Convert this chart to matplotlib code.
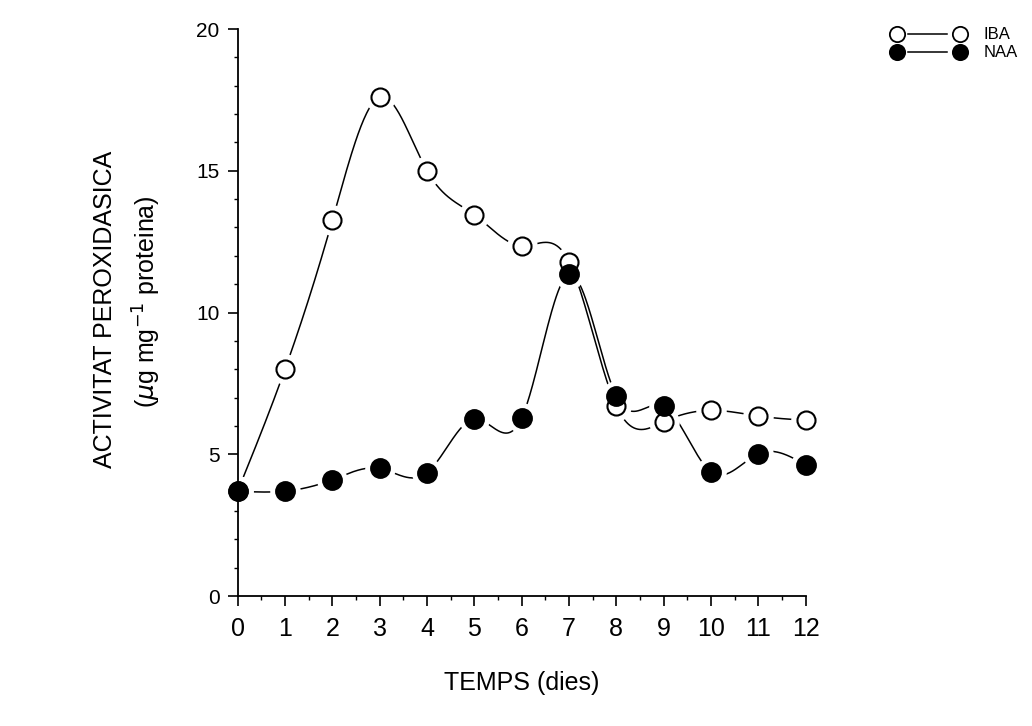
import numpy as np
import matplotlib
matplotlib.use("Agg")
import matplotlib.pyplot as plt
from matplotlib.lines import Line2D
from matplotlib.ticker import MultipleLocator

plt.rcParams['font.family'] = ['Liberation Sans', 'DejaVu Sans']

# dies de cultiu i activitat peroxidasica
dies = [0, 1, 2, 3, 4, 5, 6, 7, 8, 9, 10, 11, 12]
iba = [3.7, 8.0, 13.25, 17.6, 15.0, 13.45, 12.35, 11.8, 6.7, 6.15, 6.55, 6.35, 6.2]
naa = [3.7, 3.7, 4.1, 4.5, 4.35, 6.25, 6.28, 11.35, 7.05, 6.7, 4.38, 5.02, 4.62]


def spline(x, y, n=600):
    # natural cubic spline through the points
    x = np.asarray(x, float)
    y = np.asarray(y, float)
    h = np.diff(x)
    m = len(x)
    A = np.zeros((m, m))
    b = np.zeros(m)
    A[0, 0] = A[-1, -1] = 1
    for i in range(1, m - 1):
        A[i, i - 1] = h[i - 1]
        A[i, i] = 2 * (h[i - 1] + h[i])
        A[i, i + 1] = h[i]
        b[i] = 6 * ((y[i + 1] - y[i]) / h[i] - (y[i] - y[i - 1]) / h[i - 1])
    M = np.linalg.solve(A, b)
    xs = np.linspace(x[0], x[-1], n)
    k = np.clip(np.searchsorted(x, xs) - 1, 0, m - 2)
    t0 = x[k + 1] - xs
    t1 = xs - x[k]
    hk = h[k]
    ys = (M[k] * t0 ** 3 + M[k + 1] * t1 ** 3) / (6 * hk) \
        + (y[k] / hk - M[k] * hk / 6) * t0 + (y[k + 1] / hk - M[k + 1] * hk / 6) * t1
    return xs, ys


fig = plt.figure(figsize=(10.32, 7.26), dpi=100)
ax = fig.add_axes([0.2303, 0.179, 0.5504, 0.781])

for serie in (iba, naa):
    xs, ys = spline(dies, serie)
    ax.plot(xs, ys, color='black', lw=1.1, zorder=1, clip_on=False)

# white halo so the curves stop short of each marker
for serie in (iba, naa):
    ax.plot(dies, serie, ls='none', marker='o', ms=22, mfc='white', mec='none',
            zorder=2, clip_on=False)

ax.plot(dies, iba, ls='none', marker='o', ms=13, mfc='white', mec='black', mew=1.5,
        zorder=3, clip_on=False)
ax.plot(dies, naa, ls='none', marker='o', ms=13.5, mfc='black', mec='black', mew=1.5,
        zorder=4, clip_on=False)

ax.set_xlim(0, 12)
ax.set_ylim(0, 20)
ax.spines['top'].set_visible(False)
ax.spines['right'].set_visible(False)
ax.spines['left'].set_linewidth(1.3)
ax.spines['bottom'].set_linewidth(1.3)

ax.set_xticks(dies)
ax.xaxis.set_minor_locator(MultipleLocator(0.5))
ax.set_yticks([0, 5, 10, 15, 20])
ax.yaxis.set_minor_locator(MultipleLocator(1))
ax.tick_params(axis='x', which='major', length=7, width=1.2, labelsize=18, pad=8)
ax.tick_params(axis='x', which='minor', length=3, width=1)
ax.tick_params(axis='y', which='major', length=7, width=1.2, labelsize=15, pad=6)
ax.tick_params(axis='y', which='minor', length=3, width=1)

ax.set_xlabel('TEMPS (dies)', fontsize=18, labelpad=22)
fig.text(0.102, 0.574, 'ACTIVITAT PEROXIDASICA', rotation=90, fontsize=18,
         ha='center', va='center')
fig.text(0.142, 0.585, r'($\mu$g mg$^{-1}$ proteina)', rotation=90, fontsize=18,
         ha='center', va='center')

# legend: marker - line - marker, then the name
rows = [('IBA', 'white', 0.953), ('NAA', 'black', 0.928)]
for name, fill, yy in rows:
    fig.add_artist(Line2D([0.880, 0.918], [yy, yy], color='black', lw=1.1))
    fig.add_artist(Line2D([0.869, 0.930], [yy, yy], ls='none', marker='o', ms=11,
                          mfc=fill, mec='black', mew=1.3))
    fig.text(0.953, yy, name, fontsize=12, va='center', ha='left')

fig.savefig('out.png', dpi=100)
